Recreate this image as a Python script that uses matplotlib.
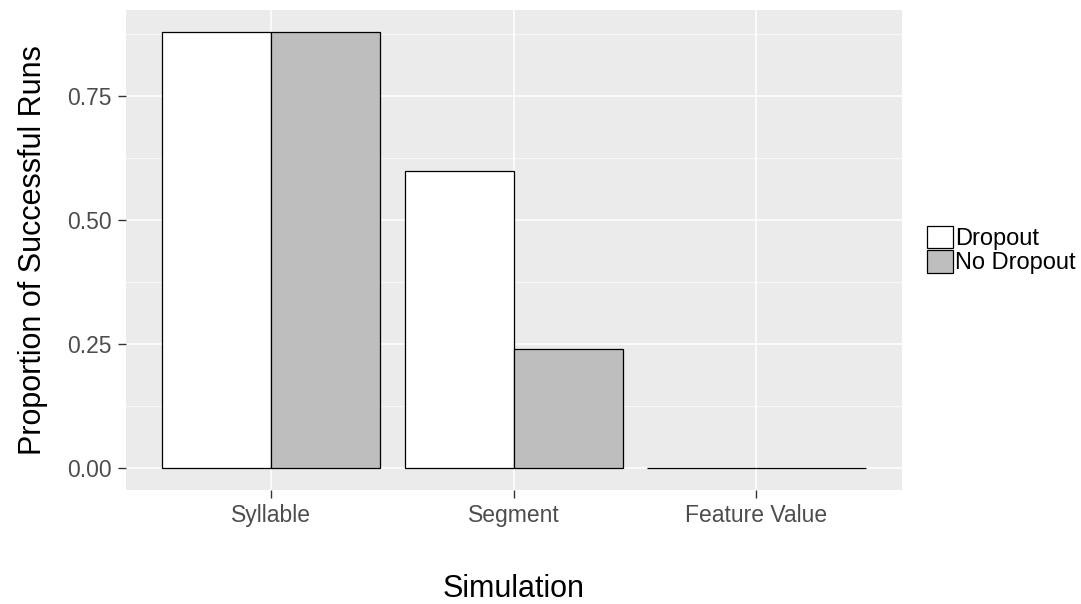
import numpy as np
import matplotlib.pyplot as plt
from matplotlib.patches import Patch

plt.rcParams['font.family'] = ['Liberation Sans', 'DejaVu Sans']

simulations = ['Syllable', 'Segment', 'Feature Value']
dropout = [0.88, 0.60, 0.00]
no_dropout = [0.88, 0.24, 0.00]
yticks = [0.00, 0.25, 0.50, 0.75]
ytick_labels = ['0.00', '0.25', '0.50', '0.75']

fig = plt.figure(figsize=(10.81, 6.04), dpi=100)
ax = fig.add_axes([0.1161, 0.1887, 0.7183, 0.7947])
ax.set_facecolor('#EBEBEB')

x = np.arange(len(simulations))
w = 0.45
ax.bar(x - w / 2, dropout, width=w, color='white', edgecolor='black', linewidth=0.9, zorder=3)
ax.bar(x + w / 2, no_dropout, width=w, color='#BEBEBE', edgecolor='black', linewidth=0.9, zorder=3)

ax.set_xlim(-0.6, len(simulations) - 0.4)
ax.set_ylim(-0.044, 0.924)
ax.set_xticks(x)
ax.set_xticklabels(simulations)
ax.set_yticks(yticks)
ax.set_yticklabels(ytick_labels)
ax.set_yticks([0.125, 0.375, 0.625, 0.875], minor=True)

ax.grid(True, which='major', color='white', linewidth=1.1, zorder=0)
ax.grid(True, which='minor', axis='y', color='white', linewidth=0.5, zorder=0)
ax.set_axisbelow(True)
for s in ax.spines.values():
    s.set_visible(False)
ax.tick_params(which='major', colors='#333333', labelcolor='#4D4D4D', labelsize=16.5,
               length=6, width=1.0, pad=4)
ax.tick_params(which='minor', length=0)

ax.set_xlabel('Simulation', fontsize=22, labelpad=34)
ax.set_ylabel('Proportion of Successful Runs', fontsize=22, labelpad=14)

handles = [Patch(facecolor='white', edgecolor='black', linewidth=0.9, label='Dropout'),
           Patch(facecolor='#BEBEBE', edgecolor='black', linewidth=0.9, label='No Dropout')]
ax.legend(handles=handles, loc='center left', bbox_to_anchor=(1.02, 0.5), frameon=False,
          fontsize=17, handlelength=1.1, handleheight=1.1, handletextpad=0.1, labelspacing=0.0,
          borderaxespad=0)

fig.savefig('out.png', dpi=100)
